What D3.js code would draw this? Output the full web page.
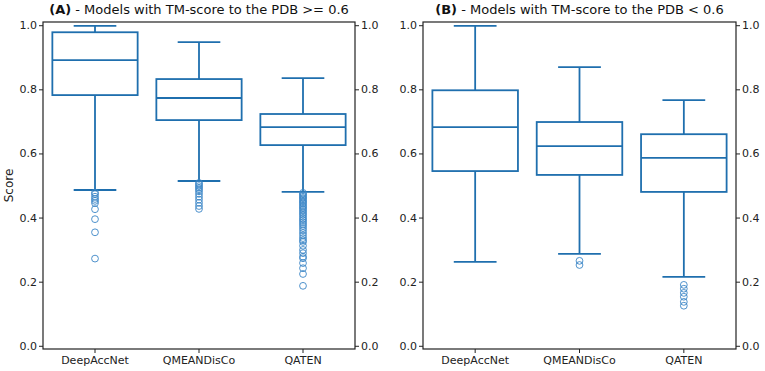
<!DOCTYPE html>
<html>
<head>
<meta charset="utf-8">
<script src="https://cdn.jsdelivr.net/npm/d3@7"></script>
<style>
  body { margin: 0; background: #fff; }
  text { font-family: "DejaVu Sans", sans-serif; }
</style>
</head>
<body>
<div id="chart"></div>
<script>
// categories and panel titles
var categories = ["DeepAccNet", "QMEANDisCo", "QATEN"];
var panelTitles = [
  ["(A)", " - Models with TM-score to the PDB >= 0.6"],
  ["(B)", " - Models with TM-score to the PDB < 0.6"]
];
var yTicks = [0, 0.2, 0.4, 0.6, 0.8, 1.0];

// box statistics, panel A (TM-score >= 0.6)
var aWhiskerLow  = [0.486, 0.514, 0.480];
var aQ1          = [0.782, 0.704, 0.626];
var aMedian      = [0.891, 0.773, 0.682];
var aQ3          = [0.978, 0.832, 0.723];
var aWhiskerHigh = [0.998, 0.947, 0.835];
var aOutliers = [
  [0.478, 0.473, 0.465, 0.458, 0.452, 0.445, 0.426, 0.395, 0.354, 0.272],
  [0.508, 0.503, 0.498, 0.493, 0.488, 0.482, 0.474, 0.465, 0.456, 0.446, 0.436, 0.427],
  [0.477, 0.473, 0.469, 0.465, 0.461, 0.457, 0.452, 0.448, 0.444, 0.439, 0.434, 0.430,
   0.425, 0.420, 0.414, 0.409, 0.403, 0.397, 0.392, 0.386, 0.380, 0.374, 0.367, 0.360,
   0.352, 0.344, 0.336, 0.329, 0.324, 0.312, 0.299, 0.289, 0.278, 0.273, 0.258, 0.242,
   0.224, 0.187]
];

// box statistics, panel B (TM-score < 0.6)
var bWhiskerLow  = [0.262, 0.287, 0.215];
var bQ1          = [0.545, 0.533, 0.480];
var bMedian      = [0.682, 0.623, 0.586];
var bQ3          = [0.797, 0.698, 0.660];
var bWhiskerHigh = [0.998, 0.869, 0.766];
var bOutliers = [
  [],
  [0.265, 0.252],
  [0.190, 0.178, 0.165, 0.153, 0.137, 0.125]
];

var lineColor = "#1f6fae";
var flierColor = "#3b86c6";

var svg = d3.select("#chart").append("svg")
  .attr("width", 765)
  .attr("height", 371);

var plotH = 327, plotTop = 22;
var y = d3.scaleLinear().domain([-0.01, 1.01]).range([plotTop + plotH, plotTop]);

function buildRows(lo, q1, med, q3, hi, out) {
  return categories.map(function (c, i) {
    return { name: c, lo: lo[i], q1: q1[i], med: med[i], q3: q3[i], hi: hi[i], out: out[i] };
  });
}

var panels = [
  { left: 43, width: 312, title: panelTitles[0], showLabel: true,
    rows: buildRows(aWhiskerLow, aQ1, aMedian, aQ3, aWhiskerHigh, aOutliers) },
  { left: 423, width: 313, title: panelTitles[1], showLabel: false,
    rows: buildRows(bWhiskerLow, bQ1, bMedian, bQ3, bWhiskerHigh, bOutliers) }
];

panels.forEach(function (p) {
  var g = svg.append("g").attr("transform", "translate(" + p.left + ",0)");
  var x = d3.scaleBand().domain(categories).range([0, p.width]).padding(0);
  var bw = x.bandwidth() * 0.82;
  var cw = bw * 0.5;

  // title
  var t = g.append("text")
    .attr("x", p.width / 2)
    .attr("y", 14)
    .attr("text-anchor", "middle")
    .style("font-size", "13px")
    .attr("fill", "#111");
  t.append("tspan").style("font-weight", "bold").text(p.title[0]);
  t.append("tspan").text(p.title[1]);

  // axes
  var fmt = d3.format(".1f");
  var la = g.append("g").call(d3.axisLeft(y).tickValues(yTicks).tickFormat(fmt).tickSize(4).tickPadding(2).tickSizeOuter(0));
  var ra = g.append("g").attr("transform", "translate(" + p.width + ",0)")
    .call(d3.axisRight(y).tickValues(yTicks).tickFormat(fmt).tickSize(4).tickPadding(2).tickSizeOuter(0));
  var ba = g.append("g").attr("transform", "translate(0," + (plotTop + plotH) + ")")
    .call(d3.axisBottom(x).tickSize(4).tickPadding(3).tickSizeOuter(0));
  [la, ra, ba].forEach(function (a) {
    a.select(".domain").remove();
    a.selectAll("text").style("font-size", "11px").attr("fill", "#222").style("font-family", "DejaVu Sans, sans-serif");
    a.selectAll("line").attr("stroke", "#222");
  });

  // frame
  g.append("rect")
    .attr("x", 0).attr("y", plotTop)
    .attr("width", p.width).attr("height", plotH)
    .attr("fill", "none").attr("stroke", "#222").attr("stroke-width", 1.2);

  if (p.showLabel) {
    g.append("text")
      .attr("transform", "translate(-30," + (plotTop + plotH / 2) + ") rotate(-90)")
      .attr("text-anchor", "middle")
      .style("font-size", "12px")
      .attr("fill", "#222")
      .text("Score");
  }

  var boxes = g.selectAll(".box").data(p.rows).enter().append("g")
    .attr("transform", function (d) { return "translate(" + (x(d.name) + x.bandwidth() / 2) + ",0)"; });

  // whiskers
  boxes.append("line")
    .attr("y1", function (d) { return y(d.hi); })
    .attr("y2", function (d) { return y(d.q3); })
    .attr("stroke", lineColor).attr("stroke-width", 1.8);
  boxes.append("line")
    .attr("y1", function (d) { return y(d.lo); })
    .attr("y2", function (d) { return y(d.q1); })
    .attr("stroke", lineColor).attr("stroke-width", 1.8);
  // caps
  boxes.append("line")
    .attr("x1", -cw / 2).attr("x2", cw / 2)
    .attr("y1", function (d) { return y(d.hi); })
    .attr("y2", function (d) { return y(d.hi); })
    .attr("stroke", lineColor).attr("stroke-width", 1.8);
  boxes.append("line")
    .attr("x1", -cw / 2).attr("x2", cw / 2)
    .attr("y1", function (d) { return y(d.lo); })
    .attr("y2", function (d) { return y(d.lo); })
    .attr("stroke", lineColor).attr("stroke-width", 1.8);
  // box
  boxes.append("rect")
    .attr("x", -bw / 2).attr("width", bw)
    .attr("y", function (d) { return y(d.q3); })
    .attr("height", function (d) { return y(d.q1) - y(d.q3); })
    .attr("fill", "none").attr("stroke", lineColor).attr("stroke-width", 1.8);
  // median
  boxes.append("line")
    .attr("x1", -bw / 2).attr("x2", bw / 2)
    .attr("y1", function (d) { return y(d.med); })
    .attr("y2", function (d) { return y(d.med); })
    .attr("stroke", lineColor).attr("stroke-width", 1.8);
  // fliers
  boxes.selectAll("circle").data(function (d) { return d.out; }).enter().append("circle")
    .attr("cx", 0)
    .attr("cy", function (v) { return y(v); })
    .attr("r", 3.4)
    .attr("fill", "none")
    .attr("stroke", flierColor)
    .attr("stroke-width", 0.9);
});
</script>
</body>
</html>
